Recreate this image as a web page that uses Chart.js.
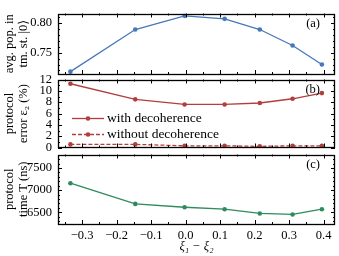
<!DOCTYPE html>
<html>
<head>
<meta charset="utf-8">
<script src="https://cdn.jsdelivr.net/npm/chart.js@4.4.0/dist/chart.umd.min.js"></script>
<style>
  html, body { margin: 0; padding: 0; background: #fff; }
  #wrap { position: relative; width: 339px; height: 256px; }
  canvas { position: absolute; left: 0; }
</style>
</head>
<body>
<div id="wrap">
  <canvas id="pa" width="339" height="90" style="top:0px"></canvas>
  <canvas id="pb" width="339" height="95" style="top:66px"></canvas>
  <canvas id="pc" width="339" height="115" style="top:141px"></canvas>
</div>
<script>
// x values: xi_1 - xi_2
const xi = [-0.334, -0.146, -0.003, 0.113, 0.215, 0.310, 0.395];

// (a) average population in target state |0>
const popTarget = [0.718, 0.789, 0.812, 0.807, 0.789, 0.762, 0.730];

// (b) protocol error eps_2 (%)
const errWithDec = [11.25, 8.5, 7.6, 7.6, 7.85, 8.6, 9.6];
const errWithoutDec = [0.55, 0.55, 0.3, 0.3, 0.2, 0.3, 0.3];

// (c) protocol time T (ns)
const protoTime = [7156, 6689, 6613, 6569, 6473, 6451, 6569];

// tick labels
const xTicks = [-0.3, -0.2, -0.1, 0.0, 0.1, 0.2, 0.3, 0.4];
const aTicks = [0.75, 0.80];
const bTicks = [0, 2, 4, 6, 8, 10, 12];
const cTicks = [6500, 7000, 7500];

const BLUE = '#4677b9';
const RED = '#b23f3d';
const GREEN = '#2e8b5e';
const FONT = 'Liberation Serif, DejaVu Serif, serif';
const FS = 12.5;
const LEG_FS = 13.5;

const AXIS_W = 58;
const X_MIN = -0.37, X_MAX = 0.433;

const pts = (ys) => xi.map((x, i) => ({ x: x, y: ys[i] }));
const fmtMinus = (s) => String(s).replace('-', '\u2212');

// frame + inward ticks on all four sides, plus panel tag
const frameTicks = {
  id: 'frameTicks',
  afterDraw(chart, args, o) {
    const { ctx, chartArea: a, scales: { x, y } } = chart;
    ctx.save();
    ctx.strokeStyle = '#000';
    ctx.lineWidth = 1;
    const tickRun = (scale, minor, major, draw) => {
      const k0 = Math.ceil(scale.min / minor - 1e-9);
      const k1 = Math.floor(scale.max / minor + 1e-9);
      for (let k = k0; k <= k1; k++) {
        const v = k * minor;
        const r = v / major;
        const isMajor = Math.abs(r - Math.round(r)) < 1e-6;
        draw(Math.round(scale.getPixelForValue(v)) + 0.5, isMajor ? 4 : 2);
      }
    };
    ctx.beginPath();
    tickRun(x, 0.05, 0.1, (px, len) => {
      ctx.moveTo(px, a.top); ctx.lineTo(px, a.top + len);
      ctx.moveTo(px, a.bottom); ctx.lineTo(px, a.bottom - len);
    });
    tickRun(y, o.yMinor, o.yMajor, (py, len) => {
      ctx.moveTo(a.left, py); ctx.lineTo(a.left + len, py);
      ctx.moveTo(a.right, py); ctx.lineTo(a.right - len, py);
    });
    ctx.stroke();
    ctx.lineWidth = 1.3;
    ctx.strokeRect(Math.round(a.left) + 0.5, Math.round(a.top) + 0.5,
      Math.round(a.right - a.left) - 1, Math.round(a.bottom - a.top) - 1);
    ctx.fillStyle = '#000';
    ctx.font = FS + 'px ' + FONT;
    ctx.textAlign = 'right';
    ctx.textBaseline = 'middle';
    ctx.fillText(o.tag, a.right - 15, a.top + 10);
    ctx.restore();
  }
};

// legend drawn as line + marker, like the original
const lineLegend = {
  id: 'lineLegend',
  afterDraw(chart, args, o) {
    if (!o.show) return;
    const { ctx, chartArea: a } = chart;
    ctx.save();
    ctx.font = LEG_FS + 'px ' + FONT;
    ctx.textBaseline = 'middle';
    ctx.textAlign = 'left';
    chart.data.datasets.forEach((ds, i) => {
      const yy = Math.round(a.top + 38 + i * 16.5) + 0.5;
      const x0 = a.left + 14, x1 = a.left + 46;
      ctx.strokeStyle = ds.borderColor;
      ctx.lineWidth = ds.borderWidth;
      ctx.setLineDash(ds.borderDash || []);
      ctx.beginPath(); ctx.moveTo(x0, yy); ctx.lineTo(x1, yy); ctx.stroke();
      ctx.setLineDash([]);
      ctx.fillStyle = ds.borderColor;
      ctx.beginPath(); ctx.arc((x0 + x1) / 2, yy, ds.pointRadius, 0, Math.PI * 2); ctx.fill();
      ctx.fillStyle = '#000';
      ctx.fillText(ds.label, a.left + 49, yy);
    });
    ctx.restore();
  }
};

function makeSeries(label, ys, color, dash) {
  return {
    label: label,
    data: pts(ys),
    borderColor: color,
    backgroundColor: color,
    borderWidth: 1.3,
    borderDash: dash || [],
    pointRadius: 2.3,
    pointHoverRadius: 2.3,
    pointBorderWidth: 0,
    tension: 0
  };
}

function makePanel(id, datasets, y, opts) {
  const showX = !!opts.showX;
  return new Chart(document.getElementById(id), {
    type: 'line',
    data: { datasets: datasets },
    plugins: [frameTicks, lineLegend],
    options: {
      responsive: false,
      animation: false,
      events: [],
      layout: { autoPadding: false, padding: opts.padding },
      plugins: {
        legend: { display: false },
        tooltip: { enabled: false },
        frameTicks: { tag: opts.tag, yMinor: y.minor, yMajor: y.major },
        lineLegend: { show: !!opts.legend }
      },
      scales: {
        x: {
          type: 'linear',
          min: X_MIN,
          max: X_MAX,
          display: showX,
          afterFit: (s) => { s.height = showX ? 32 : 0; },
          afterBuildTicks: (s) => { s.ticks = xTicks.map(v => ({ value: v })); },
          grid: { display: false, drawTicks: false },
          border: { display: false },
          ticks: {
            color: '#000',
            padding: 4,
            maxRotation: 0,
            autoSkip: false,
            font: { family: FONT, size: FS },
            callback: (v) => fmtMinus(v.toFixed(1))
          },
          title: {
            display: true,
            text: 'ξ₁ − ξ₂',
            color: '#000',
            padding: { top: 0, bottom: 2 },
            font: { family: FONT, size: FS, style: 'italic' }
          }
        },
        y: {
          min: y.min,
          max: y.max,
          afterFit: (s) => { s.width = AXIS_W; },
          afterBuildTicks: (s) => { s.ticks = y.ticks.map(v => ({ value: v })); },
          grid: { display: false, drawTicks: false },
          border: { display: false },
          ticks: {
            color: '#000',
            padding: 6,
            autoSkip: false,
            font: { family: FONT, size: FS },
            callback: (v) => y.fmt(v)
          },
          title: {
            display: true,
            text: y.title,
            color: '#000',
            padding: { top: 3, bottom: 0 },
            font: { family: FONT, size: FS, lineHeight: 1.1 }
          }
        }
      }
    }
  });
}

makePanel('pa',
  [makeSeries('avg. pop.', popTarget, BLUE)],
  { min: 0.714, max: 0.816, minor: 0.01, major: 0.05, ticks: aTicks,
    fmt: (v) => v.toFixed(2), title: ['avg. pop. in', 'tm. st. |0⟩'] },
  { tag: '(a)', padding: { top: 4, bottom: 16, left: 0, right: 4 } });

makePanel('pb',
  [makeSeries('with decoherence', errWithDec, RED),
   makeSeries('without decoherence', errWithoutDec, RED, [4, 2])],
  { min: 0, max: 12, minor: 1, major: 2, ticks: bTicks,
    fmt: (v) => String(v), title: ['protocol', 'error ε₂ (%)'] },
  { tag: '(b)', legend: true, padding: { top: 12, bottom: 12, left: 0, right: 4 } });

makePanel('pc',
  [makeSeries('protocol time', protoTime, GREEN)],
  { min: 6235, max: 7805, minor: 100, major: 500, ticks: cTicks,
    fmt: (v) => String(v), title: ['protocol', 'time T (ns)'] },
  { tag: '(c)', showX: true, padding: { top: 12, bottom: 0, left: 0, right: 4 } });
</script>
</body>
</html>
